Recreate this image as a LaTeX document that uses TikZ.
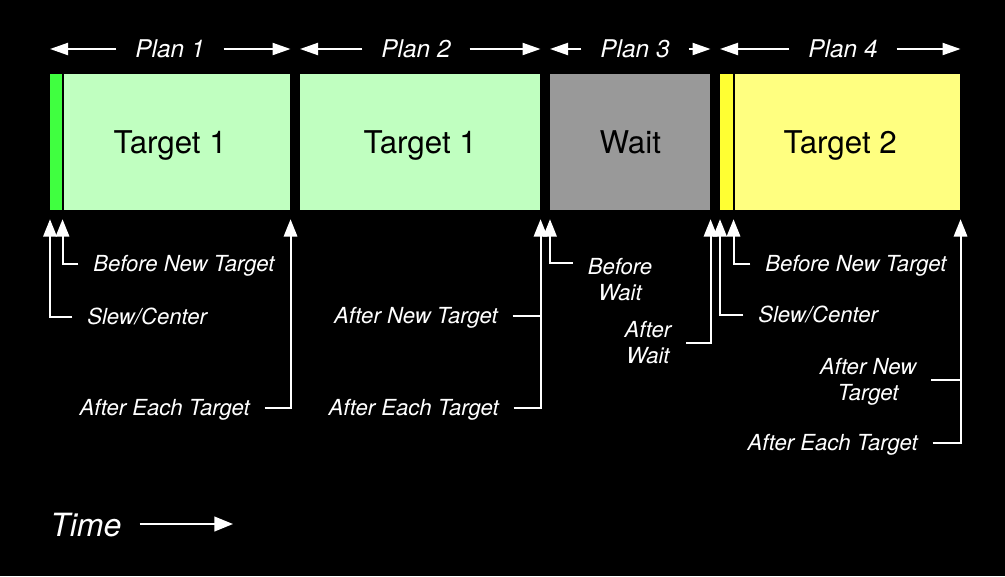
\documentclass[tikz,border=0pt]{standalone}
\usepackage{fontspec}
\setmainfont{TeX Gyre Heros}
\usetikzlibrary{arrows.meta,calc}

\definecolor{slewgreen}{HTML}{40FF40}
\definecolor{targetgreen}{HTML}{C0FFC0}
\definecolor{waitgrey}{HTML}{999999}
\definecolor{slewyellow}{HTML}{FFFF33}
\definecolor{targetyellow}{HTML}{FFFF80}

\tikzset{
	block/.style={inner sep=0pt, minimum height=102pt, anchor=north west},
	big/.style={font=\fontsize{23.5}{28}\selectfont, text=black, yshift=-2.5pt},
	plan/.style={font=\fontsize{18.3}{22}\selectfont\itshape, text=white, inner sep=0pt},
	lbl/.style={font=\fontsize{16.6}{19.5}\selectfont\itshape, text=white, inner sep=0pt, align=center},
	ptr/.style={draw=white, line width=1.5pt, -{Triangle[length=13pt,width=10pt]}, shorten <=11pt, shorten >=6.5pt},
	tick/.style={draw=white, line width=1.5pt, shorten <=11pt},
	span/.style={draw=white, line width=1.5pt, -{Triangle[length=13.5pt,width=9pt]}, shorten <=14pt}
}

\begin{document}
\begin{tikzpicture}[x=0.75pt, y=-0.75pt]
	\fill[black] (0,0) rectangle (1005,576);
	\useasboundingbox (0,0) rectangle (1005,576);

	% time line blocks
	\node[block, fill=slewgreen, minimum width=9pt] (s1) at (50,74) {};
	\node[block, fill=targetgreen, minimum width=169.5pt] (t1) at (64,74) {};
	\node[block, fill=targetgreen, minimum width=180pt] (t2) at (300,74) {};
	\node[block, fill=waitgrey, minimum width=120pt] (w3) at (550,74) {};
	\node[block, fill=slewyellow, minimum width=9.75pt] (s4) at (720,74) {};
	\node[block, fill=targetyellow, minimum width=168.75pt] (t4) at (735,74) {};

	\node[big] (tl1) at ($(s1.west)!0.5!(t1.east)$) {Target 1};
	\node[big] (tl2) at (t2) {Target 1};
	\node[big, yshift=2.5pt] (wl3) at (w3) {Wait};
	\node[big] (tl4) at ($(s4.west)!0.5!(t4.east)$) {Target 2};

	% plans
	\node[plan] (p1) at (170,49) {Plan 1};
	\node[plan] (p2) at (416,49) {Plan 2};
	\node[plan] (p3) at (635,49) {Plan 3};
	\node[plan] (p4) at (843,49) {Plan 4};
	\draw[span] (p1.west) -- (p1.west -| s1.west);
	\draw[span] (p1.east) -- (p1.east -| t1.east);
	\draw[span] (p2.west) -- (p2.west -| t2.west);
	\draw[span] (p2.east) -- (p2.east -| t2.east);
	\draw[span] (p3.west) -- (p3.west -| w3.west);
	\draw[span] (p3.east) -- (p3.east -| w3.east);
	\draw[span] (p4.west) -- (p4.west -| s4.west);
	\draw[span] (p4.east) -- (p4.east -| t4.east);

	% plan 1 hooks
	\node[lbl, anchor=mid west] (bnt1) at (93,268) {Before New Target};
	\node[lbl, anchor=mid west] (slw1) at (87,321) {Slew/Center};
	\node[lbl, anchor=mid east] (aet1) at (250,412) {After Each Target};
	\draw[ptr] ([yshift=3pt]slw1.mid west) -| (s1.south west);
	\draw[ptr] ([yshift=3pt]bnt1.mid west) -| (s1.south east);
	\draw[ptr] ([yshift=3pt]aet1.mid east) -| (t1.south east);

	% plan 2 hooks
	\node[lbl, anchor=mid east] (ant2) at (498,320) {After New Target};
	\node[lbl, anchor=mid east] (aet2) at (499,412) {After Each Target};
	\draw[ptr] ([yshift=3pt]aet2.mid east) -| (t2.south east);
	\draw[tick] ([yshift=3pt]ant2.mid east) -- ([yshift=3pt]ant2.mid east -| t2.south east);

	% plan 3 hooks
	\node[lbl, anchor=north] (bw) at (620,258) {Before\\Wait};
	\node[lbl] (aw) at (648,343) {After\\Wait};
	\draw[ptr] ($(bw.north west)+(0,5)$) -| (w3.south west);
	\draw[ptr] (aw.east) -| (w3.south east);

	% plan 4 hooks
	\node[lbl, anchor=mid west] (bnt4) at (765,268) {Before New Target};
	\node[lbl, anchor=mid west] (slw4) at (758,319) {Slew/Center};
	\node[lbl] (ant4) at (868,382) {After New\\Target};
	\node[lbl, anchor=mid east] (aet4) at (918,447) {After Each Target};
	\draw[ptr] ([yshift=3pt]slw4.mid west) -| (s4.south west);
	\draw[ptr] ([yshift=3pt]bnt4.mid west) -| (s4.south east);
	\draw[ptr] ([yshift=3pt]aet4.mid east) -| (t4.south east);
	\draw[tick] ([yshift=1.5pt]ant4.east) -- ([yshift=1.5pt]ant4.east -| t4.south east);

	% time axis
	\node[font=\fontsize{24}{28}\selectfont\itshape, text=white, inner sep=0pt, anchor=mid west] (time) at (50,533) {Time};
	\coordinate (tend) at (233,524);
	\draw[draw=white, line width=1.5pt, -{Triangle[length=14pt,width=11pt]}, shorten <=13.5pt] (time.mid east |- tend) -- (tend);
\end{tikzpicture}
\end{document}
